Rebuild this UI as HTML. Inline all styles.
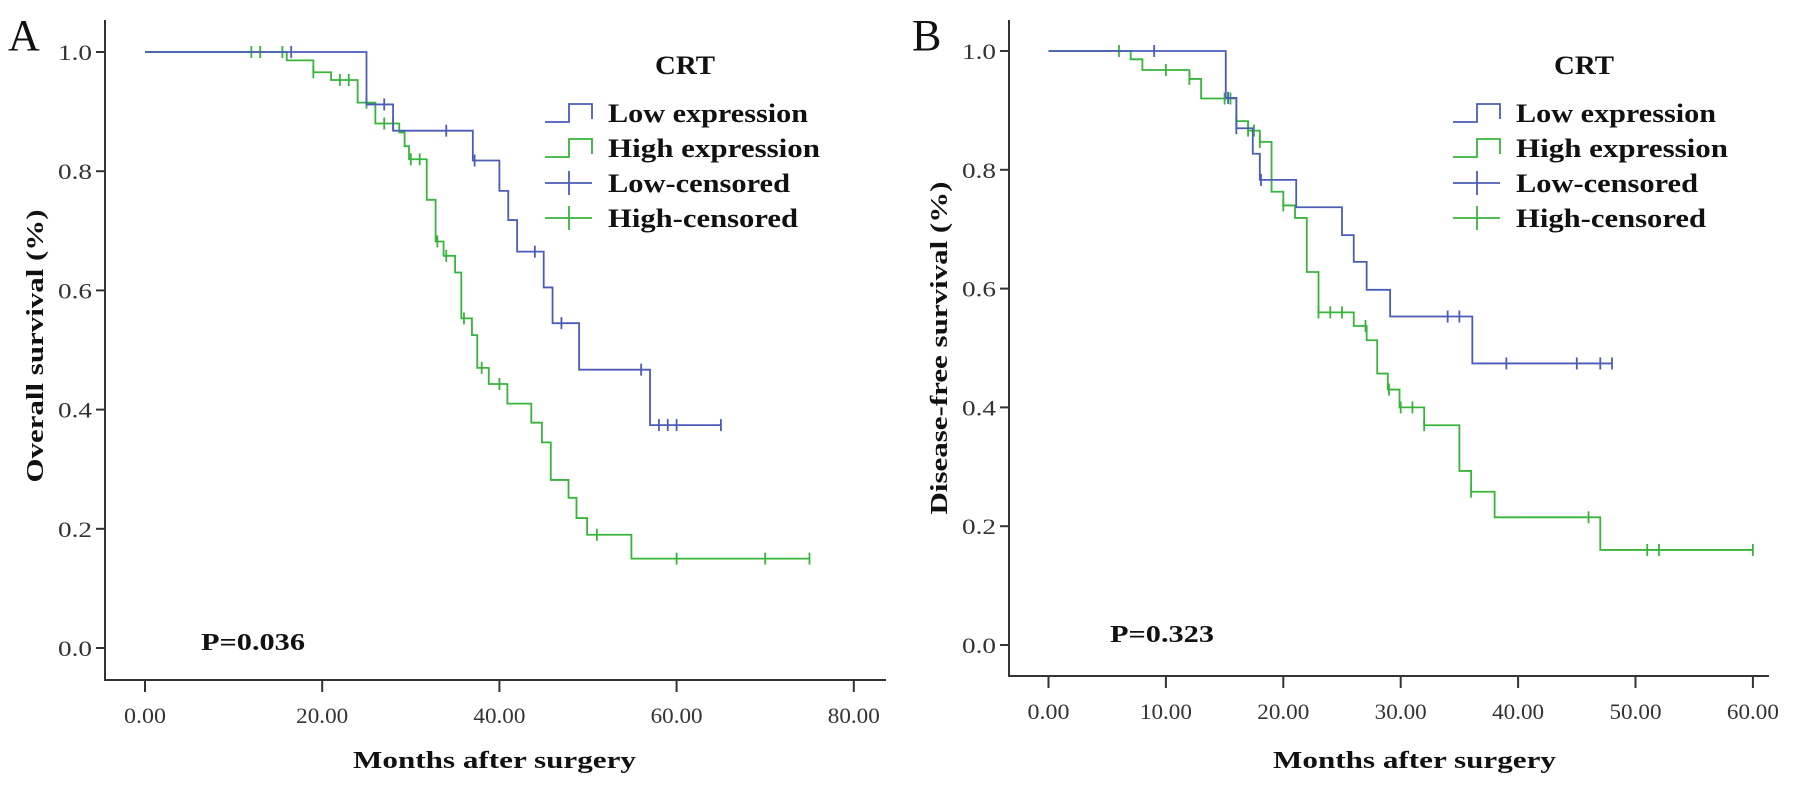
<!DOCTYPE html>
<html><head><meta charset="utf-8"><style>
html,body{margin:0;padding:0;background:#fff;}
svg{display:block;}
text{font-family:"Liberation Serif",serif;}
.tick{font-size:22px;fill:#333;}
.ttl{font-size:24px;font-weight:bold;fill:#111;}
.leg{font-size:26px;font-weight:bold;fill:#111;}
</style></head><body>
<svg id="chart" width="1795" height="791" viewBox="0 0 1795 791" xmlns="http://www.w3.org/2000/svg"></svg>
<script>
// Panel A data (overall survival)
const aLowEventTimes=[25,28,37,40,41,42,45,46,49,57];
const aLowEventSurv=[0.912,0.868,0.818,0.767,0.718,0.665,0.605,0.545,0.467,0.374];
const aLowCensor=[16.5,27,34,37.2,44,47,56,58,59,60,65];
const aHighEventTimes=[16,19,21,24,26,28.7,29.3,29.8,31.8,32.8,33.7,35,35.7,36.9,37.5,38.8,40.9,43.6,44.8,45.8,47.8,48.7,49.9,54.9];
const aHighEventSurv=[0.986,0.966,0.953,0.915,0.88,0.865,0.842,0.82,0.752,0.682,0.658,0.63,0.553,0.525,0.47,0.443,0.41,0.378,0.345,0.282,0.252,0.218,0.19,0.15];
const aHighCensor=[12,13,15.5,19,22,23,25,27,28,30,31,33,34,36,38,40,51,60,70,75];
const aXTicks=["0.00","20.00","40.00","60.00","80.00"];
const aXTickVals=[0,20,40,60,80];
// Panel B data (disease-free survival)
const bLowEventTimes=[15.1,16,17.4,18,21.1,25,26,27.1,29.1,36.1];
const bLowEventSurv=[0.921,0.87,0.827,0.783,0.737,0.69,0.645,0.598,0.553,0.474];
const bLowCensor=[9,15.3,16,18.1,34,35,39,45,47,48];
const bHighEventTimes=[7,8,12,13,16,17,18,19,20,21,22,23,26,27.1,28,28.9,29.9,32,35,36,38,47];
const bHighEventSurv=[0.986,0.968,0.953,0.92,0.882,0.866,0.847,0.763,0.74,0.719,0.628,0.56,0.537,0.513,0.457,0.43,0.4,0.37,0.293,0.258,0.215,0.16];
const bHighCensor=[6,10,12,15,15.5,16,17,17.5,18,20,23,24,25,27,29,30,31,32,36,46,51,52,60];
const bXTicks=["0.00","10.00","20.00","30.00","40.00","50.00","60.00"];
const bXTickVals=[0,10,20,30,40,50,60];
const yTicks=["0.0","0.2","0.4","0.6","0.8","1.0"];
const yTickVals=[0,0.2,0.4,0.6,0.8,1.0];

const NS="http://www.w3.org/2000/svg";
const svg=document.getElementById('chart');
function mk(tag,attrs,parent,txt){const e=document.createElementNS(NS,tag);for(const k in attrs)e.setAttribute(k,attrs[k]);if(txt!==undefined)e.textContent=txt;(parent||svg).appendChild(e);return e;}
const BLUE="#4a5cb8", GREEN="#37b43a";

function panel(cfg){
  const g=mk('g',{});
  
  
  const X=t=>cfg.x0+t*cfg.xs, Y=s=>cfg.y0-s*(cfg.y0-cfg.y1);
  const ax=mk('path',{d:`M${cfg.axX},${cfg.axTop} V${cfg.axY} H${cfg.axRight}`,stroke:'#333','stroke-width':2,fill:'none'},g);
  
  
  yTickVals.forEach((v,i)=>{
    mk('line',{x1:cfg.axX-9,x2:cfg.axX,y1:Y(v),y2:Y(v),stroke:'#333','stroke-width':2},g);
    const t=mk('text',{x:cfg.axX-13,y:Y(v)+8,'text-anchor':'end',class:'tick',textLength:34,lengthAdjust:'spacingAndGlyphs'},g,yTicks[i]);
    
    
  });
  cfg.xVals.forEach((v,i)=>{
    mk('line',{x1:X(v),x2:X(v),y1:cfg.axY,y2:cfg.axY+12,stroke:'#333','stroke-width':2},g);
    const lab=cfg.xLabels[i];
    const t=mk('text',{x:X(v),y:cfg.axY+43,'text-anchor':'middle',class:'tick',textLength:lab.length>4?52:42,lengthAdjust:'spacingAndGlyphs'},g,lab);
    
    
  });
  const xt=mk('text',{x:cfg.xTitleX,y:768,class:'ttl',textLength:283,lengthAdjust:'spacingAndGlyphs'},g,'Months after surgery');
  
  
  const yt=mk('text',{x:0,y:0,class:'ttl','text-anchor':'middle',textLength:cfg.yTitleLen,lengthAdjust:'spacingAndGlyphs',transform:`translate(${cfg.axX-62},${cfg.yTitleY}) rotate(-90)`},g,cfg.yTitle);
  
  
  const pl=mk('text',{x:cfg.pX,y:cfg.pY,class:'ttl','font-size':'26px',textLength:104,lengthAdjust:'spacingAndGlyphs'},g,cfg.pText);
  
  
  const lt=mk('text',{x:cfg.letX,y:cfg.letY,'font-size':'44px',fill:'#111'},g,cfg.letter);
  
  
  function curve(times,survs,cens,color,name){
    const end=Math.max(...cens, ...times);
    let d=`M${X(0)},${Y(1)}`;
    times.forEach((t,i)=>{d+=` H${X(t)} V${Y(survs[i])}`;});
    d+=` H${X(end)}`;
    const p=mk('path',{d,stroke:color,'stroke-width':1.8,fill:'none'},g);
    
    
    cens.forEach(c=>{
      let sv=1;times.forEach((t,i)=>{if(c>=t)sv=survs[i];});
      const m=mk('line',{x1:X(c),x2:X(c),y1:Y(sv)-6,y2:Y(sv)+6,stroke:color,'stroke-width':1.8},g);
      
      
    });
  }
  curve(cfg.hiT,cfg.hiS,cfg.hiC,GREEN,'high-expression');
  curve(cfg.loT,cfg.loS,cfg.loC,BLUE,'low-expression');
  const lg=mk('g',{},g);
  
  
  const lx=cfg.legX;
  const c1=mk('text',{x:cfg.crtX,y:74,class:'leg','text-anchor':'middle',textLength:60,lengthAdjust:'spacingAndGlyphs'},lg,'CRT');
  
  
  const rows=[[113,BLUE,'step','Low expression',200],[148,GREEN,'step','High expression',212],[183,BLUE,'cross','Low-censored',182],[218,GREEN,'cross','High-censored',190]];
  rows.forEach(r=>{
    const [cy,col,kind,label,w]=r;
    const e=mk('g',{},lg);
    
    
    if(kind==='step') mk('path',{d:`M${lx},${cy+9} H${lx+24} V${cy-9} H${lx+47} V${cy+6}`,stroke:col,'stroke-width':1.8,fill:'none'},e);
    else {mk('line',{x1:lx,x2:lx+47,y1:cy,y2:cy,stroke:col,'stroke-width':1.8},e);mk('line',{x1:lx+24,x2:lx+24,y1:cy-12,y2:cy+12,stroke:col,'stroke-width':1.8},e);}
    mk('text',{x:lx+63,y:cy+9,class:'leg',textLength:w,lengthAdjust:'spacingAndGlyphs'},e,label);
  });
}
panel({name:'panel-a-overall-survival',x0:145,xs:8.86,y0:648,y1:52,axX:105,axTop:20,axY:680,axRight:886,
  xVals:aXTickVals,xLabels:aXTicks,xTitleX:353,yTitle:'Overall survival (%)',yTitleLen:273,yTitleY:346,
  pX:201,pY:650,pText:'P=0.036',letter:'A',letX:8,letY:50,legX:545,crtX:685,
  loT:aLowEventTimes,loS:aLowEventSurv,loC:aLowCensor,hiT:aHighEventTimes,hiS:aHighEventSurv,hiC:aHighCensor});
panel({name:'panel-b-disease-free-survival',x0:1048.5,xs:11.74,y0:645,y1:51,axX:1009,axTop:20,axY:676,axRight:1769,
  xVals:bXTickVals,xLabels:bXTicks,xTitleX:1273,yTitle:'Disease-free survival (%)',yTitleLen:333,yTitleY:348,
  pX:1110,pY:642,pText:'P=0.323',letter:'B',letX:912,letY:50,legX:1453,crtX:1584,
  loT:bLowEventTimes,loS:bLowEventSurv,loC:bLowCensor,hiT:bHighEventTimes,hiS:bHighEventSurv,hiC:bHighCensor});
</script>
</body></html>
